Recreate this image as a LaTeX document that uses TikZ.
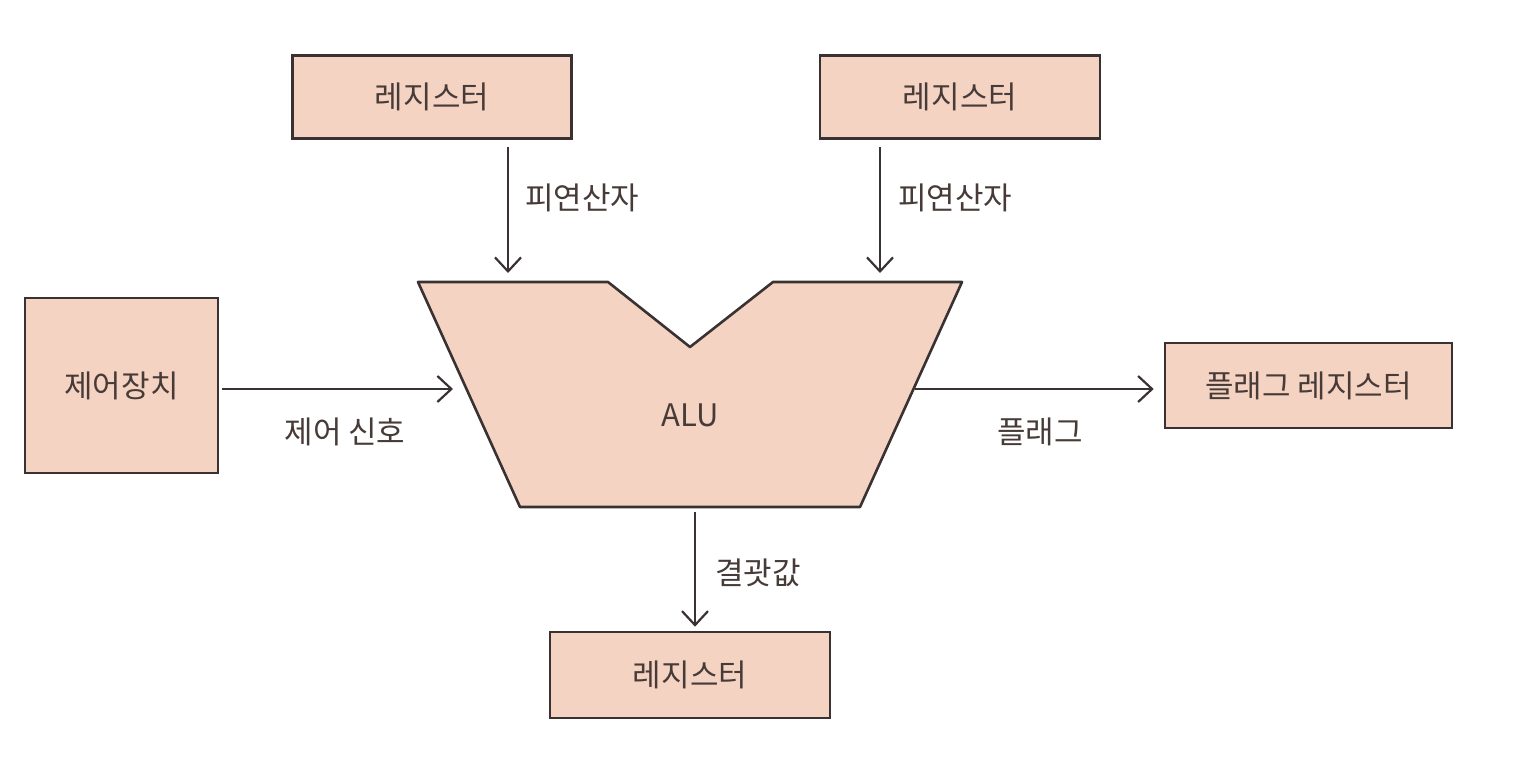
\documentclass[tikz,border=0pt]{standalone}
\usepackage{fontspec}
\setmainfont{Noto Sans CJK KR}
\usetikzlibrary{arrows.meta}
\definecolor{boxfill}{HTML}{F5D3C3}
\definecolor{inkline}{HTML}{3A3232}
\definecolor{inktext}{HTML}{473B38}
\tikzset{
    reg/.style={draw=inkline,fill=boxfill,line width=1.3pt,inner sep=0pt,
        text=inktext,font=\fontsize{15.5}{18}\selectfont},
    lbl/.style={text=inktext,font=\fontsize{15.5}{18}\selectfont},
    flow/.style={draw=inkline,line width=1.1pt,-{Straight Barb[length=7pt,width=13pt,line width=1.1pt]}}
}
\begin{document}
\begin{tikzpicture}[x=0.5pt,y=-0.5pt]
    \useasboundingbox (0,0) rectangle (1514,760);

    % boxes
    \node[reg,minimum width=139.5pt,minimum height=41.5pt] (regA) at (432,97) {레지스터};
    \node[reg,minimum width=140pt,minimum height=41.5pt] (regB) at (960,97) {레지스터};
    \node[reg,minimum width=96.5pt,minimum height=87.5pt] (ctrl) at (121.5,385.5) {제어장치};
    \node[reg,minimum width=143.5pt,minimum height=42.5pt] (flagreg) at (1308.5,385.5) {플래그 레지스터};
    \node[reg,minimum width=140pt,minimum height=43pt] (regOut) at (690,675) {레지스터};

    % ALU
    \coordinate (aluTL) at (418,282);
    \coordinate (aluNL) at (608,282);
    \coordinate (aluV) at (690,347);
    \coordinate (aluNR) at (773,282);
    \coordinate (aluTR) at (962,282);
    \coordinate (aluBR) at (860,507);
    \coordinate (aluBL) at (520,507);
    \draw[draw=inkline,fill=boxfill,line width=1.3pt,line join=round]
        (aluTL)--(aluNL)--(aluV)--(aluNR)--(aluTR)--(aluBR)--(aluBL)--cycle;
    \node[lbl] (alu) at (690,415) {ALU};

    \coordinate (inA) at (508,273);
    \coordinate (inB) at (880,273);
    \coordinate (inCtrl) at (453,389);
    \coordinate (outFlag) at (915,389);
    \coordinate (outRes) at (695,512);

    % connectors
    \draw[flow] (regA.south -| inA) ++(0,7) -- (inA);
    \draw[flow] (regB.south -| inB) ++(0,7) -- (inB);
    \draw[flow] (ctrl.east |- inCtrl) ++(3,0) -- (inCtrl);
    \draw[flow] (outFlag) -- ([xshift=-5pt]flagreg.west |- outFlag);
    \draw[flow] (outRes) -- ([yshift=2pt]regOut.north -| outRes);

    % labels
    \node[lbl,anchor=west] (opA) at (518,198) {피연산자};
    \node[lbl,anchor=west] (opB) at (891,198) {피연산자};
    \node[lbl] (sig) at (345,432) {제어 신호};
    \node[lbl] (flag) at (1040,432) {플래그};
    \node[lbl,anchor=west] (res) at (708,573) {결괏값};
\end{tikzpicture}
\end{document}
